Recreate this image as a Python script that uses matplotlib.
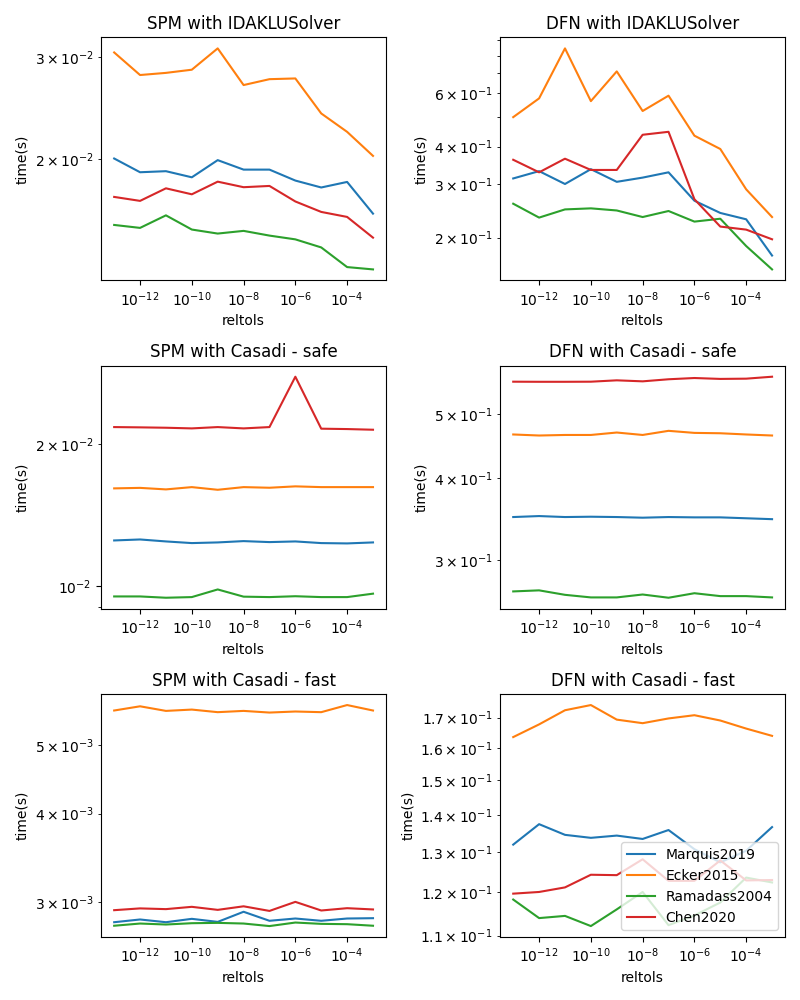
import matplotlib
matplotlib.use("Agg")
import matplotlib.pyplot as plt
import numpy as np

reltols = [1e-13, 1e-12, 1e-11, 1e-10, 1e-9, 1e-8, 1e-7, 1e-6, 1e-5, 1e-4, 1e-3]
params = ["Marquis2019", "Ecker2015", "Ramadass2004", "Chen2020"]
titles = ["SPM with IDAKLUSolver", "DFN with IDAKLUSolver",
          "SPM with Casadi - safe", "DFN with Casadi - safe",
          "SPM with Casadi - fast", "DFN with Casadi - fast"]

# SPM with IDAKLUSolver
spm_idaklu_marquis = [0.02003, 0.01896, 0.01904, 0.01858, 0.0199, 0.01916, 0.01916, 0.01834, 0.01784, 0.01824, 0.01607]
spm_idaklu_ecker = [0.0306, 0.02796, 0.0282, 0.02856, 0.0311, 0.02686, 0.0275, 0.02758, 0.02398, 0.02228, 0.02024]
spm_idaklu_ramadass = [0.01536, 0.01518, 0.01596, 0.01508, 0.01484, 0.0150, 0.01472, 0.0145, 0.01404, 0.01298, 0.01286]
spm_idaklu_chen = [0.01718, 0.01691, 0.01778, 0.01736, 0.01826, 0.01786, 0.01795, 0.01687, 0.01618, 0.01586, 0.0146]

# DFN with IDAKLUSolver
dfn_idaklu_marquis = [0.314, 0.332, 0.301, 0.337, 0.306, 0.316, 0.329, 0.265, 0.2414, 0.230, 0.1745]
dfn_idaklu_ecker = [0.501, 0.578, 0.846, 0.566, 0.710, 0.525, 0.590, 0.435, 0.393, 0.289, 0.234]
dfn_idaklu_ramadass = [0.259, 0.233, 0.248, 0.250, 0.246, 0.234, 0.245, 0.226, 0.231, 0.1876, 0.157]
dfn_idaklu_chen = [0.362, 0.329, 0.365, 0.335, 0.335, 0.438, 0.448, 0.268, 0.2176, 0.2126, 0.1975]

# SPM with Casadi - safe
spm_safe_marquis = [0.01248, 0.01254, 0.01242, 0.01232, 0.01236, 0.01244, 0.01238, 0.01242, 0.01232, 0.0123, 0.01236]
spm_safe_ecker = [0.0161, 0.01614, 0.01602, 0.0162, 0.01599, 0.0162, 0.01615, 0.01626, 0.0162, 0.0162, 0.0162]
spm_safe_ramadass = [0.00949, 0.00949, 0.00943, 0.00946, 0.00982, 0.00948, 0.00946, 0.0095, 0.00946, 0.00946, 0.00962]
spm_safe_chen = [0.02173, 0.0217, 0.02166, 0.02159, 0.02173, 0.02159, 0.02173, 0.0278, 0.02156, 0.02152, 0.02145]

# DFN with Casadi - safe
dfn_safe_marquis = [0.3486, 0.3498, 0.3486, 0.349, 0.3486, 0.3478, 0.3486, 0.3482, 0.3482, 0.3471, 0.346]
dfn_safe_ecker = [0.466, 0.4643, 0.4652, 0.4652, 0.4692, 0.4652, 0.472, 0.4686, 0.468, 0.466, 0.4643]
dfn_safe_ramadass = [0.2684, 0.2694, 0.2652, 0.2628, 0.2628, 0.2655, 0.2625, 0.2667, 0.264, 0.264, 0.2628]
dfn_safe_chen = [0.561, 0.5608, 0.5608, 0.561, 0.5637, 0.5617, 0.5658, 0.5683, 0.5665, 0.567, 0.5709]

# SPM with Casadi - fast
spm_fast_marquis = [0.002811, 0.002836, 0.002811, 0.002842, 0.002814, 0.002908, 0.002824, 0.002845, 0.002824, 0.002845, 0.002848]
spm_fast_ecker = [0.00559, 0.005667, 0.005583, 0.005607, 0.00556, 0.005583, 0.005553, 0.005572, 0.00556, 0.00569, 0.00559]
spm_fast_ramadass = [0.002779, 0.002799, 0.00279, 0.002802, 0.002805, 0.002799, 0.002776, 0.002808, 0.002796, 0.002793, 0.002779]
spm_fast_chen = [0.002923, 0.00294, 0.002933, 0.002955, 0.002926, 0.00296, 0.002916, 0.003003, 0.00292, 0.002942, 0.00293]

# DFN with Casadi - fast
dfn_fast_marquis = [0.1319, 0.1374, 0.1345, 0.1337, 0.1343, 0.1334, 0.1358, 0.1307, 0.1273, 0.1303, 0.1366]
dfn_fast_ecker = [0.1635, 0.1677, 0.1725, 0.1743, 0.1693, 0.1681, 0.1697, 0.1708, 0.1690, 0.1663, 0.1639]
dfn_fast_ramadass = [0.1182, 0.1139, 0.1144, 0.1121, 0.1159, 0.1200, 0.1123, 0.1145, 0.1175, 0.1235, 0.1223]
dfn_fast_chen = [0.1196, 0.1200, 0.1211, 0.1242, 0.1241, 0.1281, 0.1227, 0.1227, 0.1278, 0.1228, 0.1229]

series = [
    [spm_idaklu_marquis, spm_idaklu_ecker, spm_idaklu_ramadass, spm_idaklu_chen],
    [dfn_idaklu_marquis, dfn_idaklu_ecker, dfn_idaklu_ramadass, dfn_idaklu_chen],
    [spm_safe_marquis, spm_safe_ecker, spm_safe_ramadass, spm_safe_chen],
    [dfn_safe_marquis, dfn_safe_ecker, dfn_safe_ramadass, dfn_safe_chen],
    [spm_fast_marquis, spm_fast_ecker, spm_fast_ramadass, spm_fast_chen],
    [dfn_fast_marquis, dfn_fast_ecker, dfn_fast_ramadass, dfn_fast_chen],
]

fig, axes = plt.subplots(3, 2, figsize=(8, 10), dpi=100)
for ax, title, data in zip(axes.flat, titles, series):
    for name, vals in zip(params, data):
        ax.plot(reltols, vals, label=name)
    ax.set_xscale("log")
    ax.set_yscale("log")
    ax.set_title(title)
    ax.set_xlabel("reltols")
    ax.set_ylabel("time(s)")
axes[2, 1].legend(loc="lower right")
fig.tight_layout()
fig.savefig("out.png")
